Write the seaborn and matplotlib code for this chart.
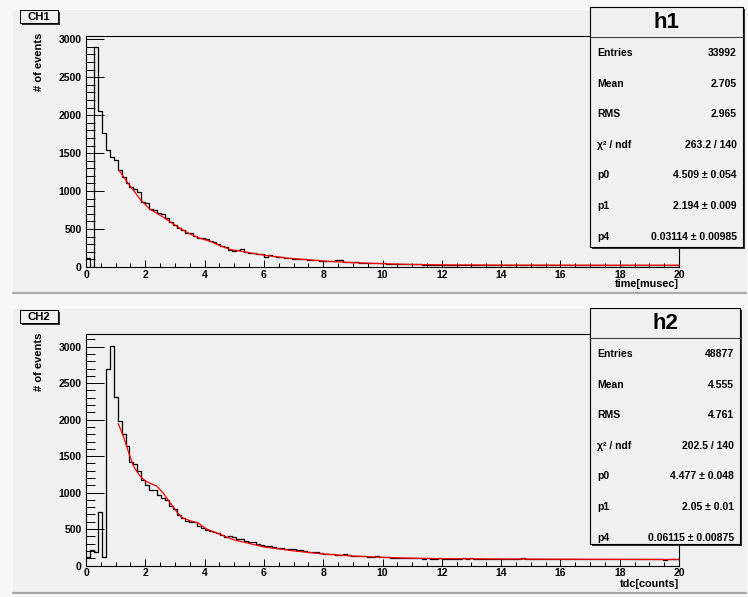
import matplotlib
matplotlib.use("Agg")
import numpy as np
import pandas as pd
import matplotlib.pyplot as plt
import seaborn as sns
from matplotlib.patches import Rectangle
from matplotlib.lines import Line2D
from matplotlib.transforms import Affine2D
from matplotlib.ticker import MultipleLocator

# histogram binning (ROOT TH1: 150 bins from 0 to 20)
N_BINS = 150
X_MIN, X_MAX = 0.0, 20.0

# CH1 bin contents
ch1_counts = [
    120, 0, 2900, 2060, 1765, 1545, 1445, 1410, 1275, 1180,
    1100, 1050, 1030, 990, 860, 845, 760, 755, 705, 695,
    640, 597, 553, 518, 487, 452, 443, 408, 386, 377,
    364, 346, 333, 298, 276, 259, 224, 210, 224, 232,
    202, 189, 180, 171, 171, 127, 158, 145, 136, 127,
    114, 112, 110, 104, 100, 106, 96, 90, 88, 84,
    80, 78, 80, 92, 90, 72, 70, 64, 60, 58,
    55, 55, 50, 52, 48, 47, 44, 45, 40, 38,
    37, 35, 36, 33, 34, 30, 28, 30, 27, 28,
    27, 26, 25, 28, 24, 26, 23, 25, 27, 24,
    25, 22, 26, 24, 23, 25, 22, 24, 26, 23,
    21, 24, 23, 28, 25, 22, 24, 23, 25, 22,
    24, 23, 21, 25, 24, 22, 23, 26, 22, 24,
    23, 21, 24, 22, 25, 23, 28, 24, 22, 23,
    21, 24, 22, 23, 25, 22, 21, 23, 22, 24,
]

# CH2 bin contents
ch2_counts = [
    110, 210, 180, 740, 120, 2690, 3015, 2315, 1980, 1800,
    1636, 1420, 1392, 1295, 1170, 1110, 1035, 1030, 968, 932,
    895, 809, 768, 691, 645, 614, 600, 590, 536, 509,
    490, 478, 462, 450, 420, 395, 400, 385, 365, 360,
    340, 328, 318, 300, 285, 272, 266, 260, 245, 238,
    230, 224, 220, 215, 212, 196, 190, 186, 182, 178,
    158, 155, 152, 147, 145, 152, 146, 136, 132, 127,
    124, 122, 118, 128, 116, 112, 110, 106, 108, 104,
    102, 106, 97, 100, 99, 95, 97, 94, 92, 96,
    92, 95, 90, 94, 88, 96, 91, 100, 93, 89,
    95, 90, 88, 92, 86, 94, 90, 87, 91, 89,
    96, 88, 90, 86, 93, 89, 87, 91, 85, 90,
    88, 92, 86, 89, 85, 91, 87, 84, 90, 86,
    88, 85, 89, 87, 84, 88, 86, 83, 90, 85,
    87, 84, 86, 83, 88, 85, 82, 86, 84, 83,
]

# fitted curves (red)
ch1_fit_x = [1.11, 1.37, 1.6, 1.85, 2.16, 2.49, 2.83, 3.17, 3.51, 3.85, 4.18, 4.52,
             4.86, 5.31, 5.76, 6.21, 6.88, 7.5, 8, 9, 10, 11, 12, 14, 16, 18, 20]
ch1_fit_y = [1276, 1130, 1010, 880, 760, 684, 597, 509, 434, 377, 340, 281,
             232, 202, 171, 145, 114, 95, 79, 57, 44, 33, 28, 25, 24, 23, 23]

ch2_fit_x = [1.09, 1.26, 1.46, 1.6, 1.82, 2.0, 2.2, 2.38, 2.61, 2.83, 3.06, 3.23,
             3.51, 3.79, 4.07, 4.41, 5, 6, 7, 8, 9, 10, 11, 12, 14, 16, 18, 20]
ch2_fit_y = [1945, 1773, 1523, 1364, 1227, 1159, 1120, 1091, 991, 864, 736, 659,
             614, 582, 500, 445, 350, 255, 200, 158, 130, 112, 100, 94, 89, 86, 84, 82]

h1_labels = ["Entries", "Mean", "RMS", "χ² / ndf", "p0", "p1", "p4"]
h1_values = ["33992", "2.705", "2.965", "263.2 / 140", "4.509 ± 0.054",
             "2.194 ± 0.009", "0.03114 ± 0.00985"]
h2_labels = ["Entries", "Mean", "RMS", "χ² / ndf", "p0", "p1", "p4"]
h2_values = ["48877", "4.555", "4.761", "202.5 / 140", "4.477 ± 0.048",
             "2.05 ± 0.01", "0.06115 ± 0.00875"]

W, H = 748, 597
PAD = "#f0f0f0"
CANVAS = "#f7f7f7"

sns.set_theme(style="white")
plt.rcParams["font.family"] = ["Liberation Sans", "DejaVu Sans"]
plt.rcParams["font.weight"] = "bold"
plt.rcParams["text.color"] = "black"
plt.rcParams["xtick.color"] = "black"
plt.rcParams["ytick.color"] = "black"

fig = plt.figure(figsize=(W / 100, H / 100), dpi=100)
fig.patch.set_facecolor(CANVAS)
# pixel coordinates, y pointing down
px = Affine2D().scale(1 / W, -1 / H).translate(0, 1) + fig.transFigure


def draw_pad(top, bottom):
    fig.add_artist(Rectangle((13, top), 733, bottom - top, transform=px,
                             fc=PAD, ec="none", zorder=-5))
    fig.add_artist(Line2D([13, 746], [bottom, bottom], transform=px,
                          color="#a8a8a8", lw=1.6, zorder=-4))
    fig.add_artist(Line2D([13, 746], [top, top], transform=px,
                          color="white", lw=1.0, zorder=-4))


def draw_hist(rect, counts, fit_x, fit_y, ymax, xlabel, xlab_y):
    ax = fig.add_axes(rect)
    ax.set_facecolor(PAD)
    edges = list(np.linspace(X_MIN, X_MAX, N_BINS + 1))
    centers = [0.5 * (a + b) for a, b in zip(edges[:-1], edges[1:])]
    df = pd.DataFrame({"x": centers, "n": counts})
    sns.histplot(data=df, x="x", weights="n", bins=edges, element="step",
                 fill=False, color="black", linewidth=0.9, ax=ax)
    fit = pd.DataFrame({"x": fit_x, "y": fit_y})
    sns.lineplot(data=fit, x="x", y="y", color="red", linewidth=0.9, ax=ax)
    ax.set_xlim(X_MIN, X_MAX)
    ax.set_ylim(0, ymax)
    ax.set_xlabel("")
    ax.set_ylabel("")
    ax.xaxis.set_major_locator(MultipleLocator(2))
    ax.xaxis.set_minor_locator(MultipleLocator(0.5))
    ax.yaxis.set_major_locator(MultipleLocator(500))
    ax.yaxis.set_minor_locator(MultipleLocator(100))
    ax.tick_params(which="both", bottom=True, left=True, top=False, right=False,
                   direction="in", color="black", width=0.7)
    ax.tick_params(axis="x", which="major", length=5, pad=2, labelsize=7.5,
                   labelcolor="black")
    ax.tick_params(axis="x", which="minor", length=2.8)
    ax.tick_params(axis="y", which="major", length=13, pad=3, labelsize=7.5,
                   labelcolor="black")
    ax.tick_params(axis="y", which="minor", length=6.5)
    for lab in ax.get_xticklabels() + ax.get_yticklabels():
        lab.set_fontweight("bold")
    for sp in ax.spines.values():
        sp.set_color("black")
        sp.set_linewidth(0.8)
    fig.text(679, xlab_y, xlabel, transform=px, ha="right", va="center",
             fontsize=7.8, fontweight="bold", color="black")
    return ax


def draw_label_box(text, top):
    fig.add_artist(Rectangle((22, top + 2), 38, 13, transform=px,
                             fc="#303030", ec="none", zorder=5))
    fig.add_artist(Rectangle((20, top), 38, 13, transform=px,
                             fc=PAD, ec="black", lw=0.7, zorder=6))
    fig.text(39, top + 6.5, text, transform=px, ha="center", va="center",
             fontsize=8.2, fontweight="bold", color="black", zorder=8)


def draw_stats(name, top, bottom, right, labels, values):
    left = 590
    fig.add_artist(Rectangle((left + 2, top + 2), right - left, bottom - top,
                             transform=px, fc="#303030", ec="none", zorder=5))
    fig.add_artist(Rectangle((left, top), right - left, bottom - top,
                             transform=px, fc=PAD, ec="black", lw=0.8, zorder=6))
    fig.add_artist(Line2D([left, right], [top + 30, top + 30], transform=px,
                          color="#404040", lw=0.8, zorder=7))
    fig.text((left + right) / 2, top + 15.5, name, transform=px, ha="center",
             va="center", fontsize=16, fontweight="bold", color="black", zorder=8)
    for i, (lab, val) in enumerate(zip(labels, values)):
        y = top + 46 + i * 30.6
        fig.text(left + 7, y, lab, transform=px, ha="left", va="center",
                 fontsize=7.5, fontweight="bold", color="black", zorder=8)
        fig.text(right - 6, y, val, transform=px, ha="right", va="center",
                 fontsize=7.5, fontweight="bold", color="black", zorder=8)


draw_pad(9, 293)
draw_pad(307, 593)

ax1 = draw_hist([86 / W, 1 - 267 / H, 593 / W, (267 - 35.7) / H],
                ch1_counts, ch1_fit_x, ch1_fit_y, 3047, "time[musec]", 284)
ax2 = draw_hist([86 / W, 1 - 565.5 / H, 593 / W, (565.5 - 334.3) / H],
                ch2_counts, ch2_fit_x, ch2_fit_y, 3170, "tdc[counts]", 584)

fig.text(39, 33, "# of events", transform=px, rotation=90, ha="center",
         va="top", fontsize=8, fontweight="bold", color="black")
fig.text(39, 333, "# of events", transform=px, rotation=90, ha="center",
         va="top", fontsize=8, fontweight="bold", color="black")

draw_label_box("CH1", 10)
draw_label_box("CH2", 310)

draw_stats("h1", 7, 247, 743, h1_labels, h1_values)
draw_stats("h2", 308, 544, 740, h2_labels, h2_values)

fig.savefig("out.png", dpi=100, facecolor=fig.get_facecolor())
